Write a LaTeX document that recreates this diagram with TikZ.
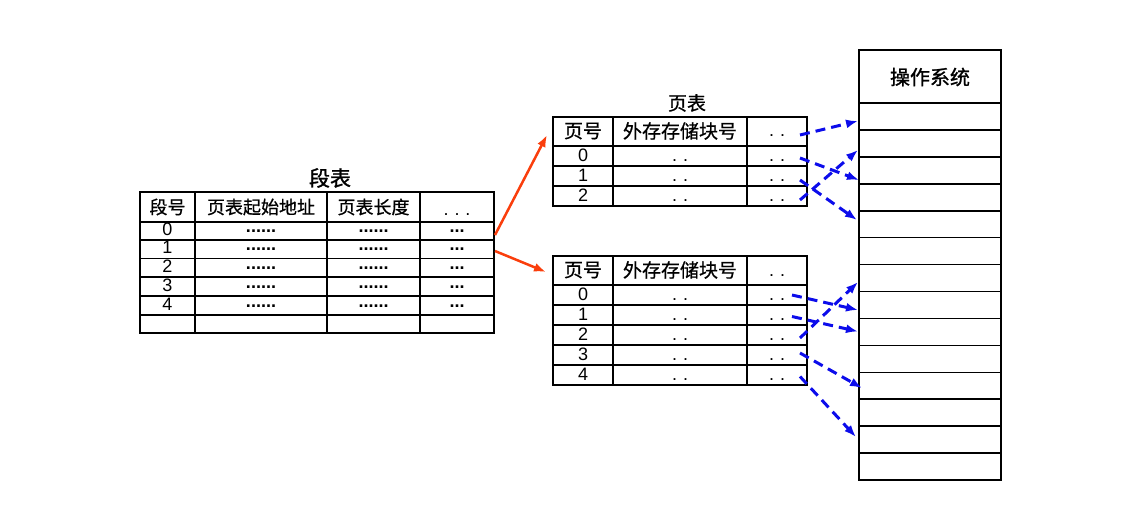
\documentclass[tikz,border=0pt]{standalone}
\usepackage{fontspec}
\setmainfont{Liberation Sans}
\newfontfamily\cjk[FakeBold=0.7]{Noto Sans CJK SC}
\newfontfamily\cjkt[FakeBold=1.2]{Noto Sans CJK SC}
\usetikzlibrary{arrows.meta}
\definecolor{segred}{RGB}{250,62,12}
\definecolor{pgblue}{RGB}{12,12,235}
\tikzset{
  tabline/.style={line width=1.6pt},
  txt/.style={inner sep=0pt,font=\fontsize{18}{20}\selectfont},
  dots/.style={txt,anchor=base},
  redarr/.style={segred,line width=2.5pt,-{Latex[length=12pt,width=9pt]}},
  bluearr/.style={pgblue,line width=3pt,dash pattern=on 10pt off 6pt,-{Latex[length=12pt,width=9pt]}}
}
\begin{document}
\begin{tikzpicture}[x=1pt,y=-1pt]
  \useasboundingbox (0,0) rectangle (1128,523);
  % 段表
  \node[txt,font=\fontsize{21}{24}\selectfont\cjkt] (segtitle) at (330,178) {段表};
  \draw[tabline] (140,192) rectangle (494,333);
  \foreach \y in {222,240,258.5,277,296,315}
    \draw[tabline] (140,\y) -- (494,\y);
  \foreach \x in {195,327,420}
    \draw[tabline] (\x,192) -- (\x,333);
  \node[txt,font=\fontsize{18}{20}\selectfont\cjk] (sh1) at (167.5,207) {段号};
  \node[txt,font=\fontsize{18}{20}\selectfont\cjk] (sh2) at (261,207) {页表起始地址};
  \node[txt,font=\fontsize{18}{20}\selectfont\cjk] (sh3) at (373.5,207) {页表长度};
  \node[dots] (sh4) at (457,215) {.\,\,.\,\,.};
  \foreach \y [count=\k from 0] in {231,249,268,286.5,305.5} {
    \node[txt] (sn\k) at (167.5,\y-1.5) {\k};
    \node[dots,font=\fontsize{18}{20}\selectfont\bfseries] (sa\k) at (261,\y+1.5) {......};
    \node[dots,font=\fontsize{18}{20}\selectfont\bfseries] (sb\k) at (373.5,\y+1.5) {......};
    \node[dots,font=\fontsize{18}{20}\selectfont\bfseries] (sc\k) at (457,\y+1.5) {...};
  }
  % 页表 1
  \node[txt,font=\fontsize{19}{22}\selectfont\cjk] (pgtitle) at (687,103) {页表};
  \draw[tabline] (553,117) rectangle (807,206);
  \foreach \y in {146,166,186}
    \draw[tabline] (553,\y) -- (807,\y);
  \foreach \x in {613,747}
    \draw[tabline] (\x,117) -- (\x,206);
  \node[txt,font=\fontsize{19}{22}\selectfont\cjk] (ah1) at (583,131) {页号};
  \node[txt,font=\fontsize{19}{22}\selectfont\cjk] (ah2) at (680,131) {外存存储块号};
  \node[dots] (ah3) at (777,136) {.\,\,.};
  \foreach \y [count=\k from 0] in {156,176,196} {
    \node[txt] (an\k) at (583,\y-1) {\k};
    \node[dots] (aa\k) at (680,\y+5) {.\,\,.};
    \node[dots] (ab\k) at (777,\y+5) {.\,\,.};
  }
  % 页表 2
  \draw[tabline] (553,256) rectangle (807,385);
  \foreach \y in {285,305,325,345,365}
    \draw[tabline] (553,\y) -- (807,\y);
  \foreach \x in {613,747}
    \draw[tabline] (\x,256) -- (\x,385);
  \node[txt,font=\fontsize{19}{22}\selectfont\cjk] (bh1) at (583,270) {页号};
  \node[txt,font=\fontsize{19}{22}\selectfont\cjk] (bh2) at (680,270) {外存存储块号};
  \node[dots] (bh3) at (777,276) {.\,\,.};
  \foreach \y [count=\k from 0] in {295,315,335,355,375} {
    \node[txt] (bn\k) at (583,\y-1) {\k};
    \node[dots] (ba\k) at (680,\y+5) {.\,\,.};
    \node[dots] (bb\k) at (777,\y+5) {.\,\,.};
  }
  % 内存
  \draw[tabline] (859,50) rectangle (1001,480);
  \draw[tabline] (859,103) -- (1001,103);
  \foreach \k in {1,...,13}
    \draw[tabline] (859,{103+26.93*\k}) -- (1001,{103+26.93*\k});
  \node[txt,font=\fontsize{20}{24}\selectfont\cjkt] (os) at (930,77) {操作系统};
  % 端点
  \coordinate (s1) at (495,235);
  \coordinate (s2) at (495,251);
  \coordinate (p1) at (547,135);
  \coordinate (p2) at (546,272);
  \coordinate (ah) at (800,135);
  \coordinate (a0) at (800,158);
  \coordinate (a1) at (800,180);
  \coordinate (a2) at (800,200);
  \coordinate (b0) at (792,295);
  \coordinate (b1) at (792,316.5);
  \coordinate (b2) at (800,338);
  \coordinate (b3) at (800,353);
  \coordinate (b4) at (800,376.5);
  \coordinate (m1) at (858,121);
  \coordinate (m2) at (858,150);
  \coordinate (m3) at (859,180);
  \coordinate (m4) at (857,220);
  \coordinate (m5) at (858,282);
  \coordinate (m6) at (858,310);
  \coordinate (m7) at (858,331.5);
  \coordinate (m8) at (862,388);
  \coordinate (m9) at (856,437);
  % 连线
  \draw[redarr] (s1) -- (p1);
  \draw[redarr] (s2) -- (p2);
  \draw[bluearr] (ah) -- (m1);
  \draw[bluearr] (a0) -- (m3);
  \draw[bluearr] (a1) -- (m4);
  \draw[bluearr] (a2) -- (m2);
  \draw[bluearr] (b0) -- (m6);
  \draw[bluearr] (b1) -- (m7);
  \draw[bluearr] (b2) -- (m5);
  \draw[bluearr] (b3) -- (m8);
  \draw[bluearr] (b4) -- (m9);
\end{tikzpicture}
\end{document}
